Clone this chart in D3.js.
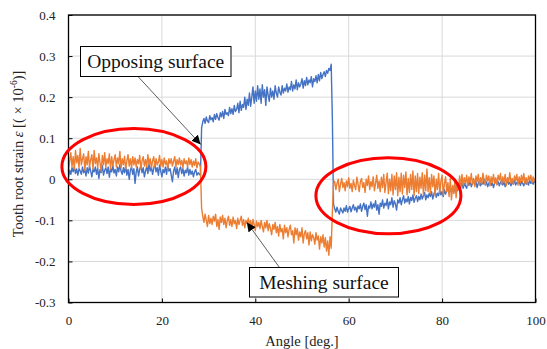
<!DOCTYPE html>
<html>
<head>
<meta charset="utf-8">
<script src="https://cdn.jsdelivr.net/npm/d3@7"></script>
<style>
  body { margin: 0; background: #fff; }
  text { font-family: 'Liberation Serif', 'Times New Roman', serif; }
</style>
</head>
<body>
<script>
// angle grid (deg.), one reading every 0.25 deg, 8 readings per row below
const angleStep = 0.25
const angles = d3.range(0, 100 + angleStep / 2, angleStep)

// opposing surface (blue), strain x10^-6
const opposing = [
  0.005, 0.022, 0.012, 0.028, 0.018, 0.03, 0.014, 0.025,
  0.01, 0.026, 0.02, 0.012, 0.03, 0.016, 0.024, 0.008,
  0.028, 0.015, 0.032, 0.02, 0.006, 0.025, 0.018, 0.03,
  0.012, 0.027, 0.002, 0.024, 0.016, 0.033, 0.01, 0.022,
  0.028, 0.014, 0.03, 0.005, 0.026, 0.018, 0.034, 0.015,
  0.024, 0.008, 0.03, 0.018, 0.036, 0.02, 0.012, 0.028,
  0.016, 0.032, 0.01, 0.024, 0.0, 0.022, 0.03, 0.012,
  0.026, -0.01, 0.018, 0.03, 0.008, 0.024, 0.034, 0.016,
  0.028, 0.006, 0.02, 0.032, 0.014, 0.038, 0.02, 0.03,
  0.012, 0.026, 0.04, 0.018, 0.028, 0.01, 0.035, 0.02,
  0.006, 0.024, 0.016, 0.03, 0.012, 0.034, 0.02, 0.026,
  0.01, -0.006, 0.02, 0.03, 0.012, 0.028, 0.004, 0.024,
  0.03, 0.014, 0.026, 0.008, 0.022, 0.016, 0.03, 0.01,
  0.024, 0.012, 0.02, 0.006, 0.018, 0.024, 0.01, 0.016,
  0.012, 0.01,
  0.125,
  0.14, 0.148, 0.136, 0.152, 0.142, 0.138, 0.155, 0.145,
  0.15, 0.14, 0.158, 0.146, 0.16, 0.15, 0.144, 0.162,
  0.152, 0.165, 0.148, 0.17, 0.158, 0.162, 0.155, 0.175,
  0.16, 0.172, 0.158, 0.18, 0.165, 0.17, 0.185, 0.162,
  0.19, 0.168, 0.182, 0.175, 0.2, 0.17, 0.195, 0.18,
  0.21, 0.178, 0.2, 0.225, 0.185, 0.215, 0.19, 0.228,
  0.195, 0.22, 0.185, 0.23, 0.2, 0.218, 0.18, 0.225,
  0.205, 0.19, 0.222, 0.2, 0.215, 0.195, 0.228, 0.21,
  0.2, 0.225, 0.212, 0.205, 0.228, 0.21, 0.222, 0.215,
  0.232, 0.212, 0.225, 0.218, 0.238, 0.215, 0.23, 0.22,
  0.242, 0.218, 0.235, 0.225, 0.232, 0.245, 0.222, 0.24,
  0.228, 0.248, 0.23, 0.242, 0.235, 0.25, 0.225, 0.245,
  0.238, 0.252, 0.235, 0.255, 0.24, 0.26, 0.245, 0.255,
  0.262, 0.25, 0.265, 0.258, 0.27, 0.265, 0.28,
  0.15, -0.06,
  -0.072, -0.08, -0.068, -0.078, -0.085, -0.07, -0.076, -0.082,
  -0.07, -0.078, -0.064, -0.08, -0.072, -0.066, -0.079, -0.07,
  -0.062, -0.075, -0.068, -0.08, -0.065, -0.072, -0.06, -0.078,
  -0.066, -0.058, -0.074, -0.062, -0.09, -0.065, -0.07, -0.055,
  -0.072, -0.06, -0.068, -0.052, -0.075, -0.062, -0.085, -0.058,
  -0.066, -0.05, -0.07, -0.058, -0.064, -0.048, -0.072, -0.055,
  -0.062, -0.045, -0.068, -0.052, -0.06, -0.075, -0.05, -0.058,
  -0.045, -0.062, -0.05, -0.04, -0.058, -0.048, -0.055, -0.042,
  -0.06, -0.044, -0.052, -0.038, -0.056, -0.046, -0.04, -0.054,
  -0.042, -0.05, -0.036, -0.048, -0.04, -0.032, -0.05, -0.038,
  -0.045, -0.034, -0.042, -0.03, -0.048, -0.036, -0.028, -0.044,
  -0.034, -0.04, -0.026, -0.038, -0.03, -0.042, -0.025, -0.036,
  -0.028, -0.02, -0.035, -0.024, -0.03, -0.018, -0.032, -0.022,
  -0.015, -0.028, -0.012, -0.024, -0.018, -0.008, -0.022, -0.01,
  -0.016,
  -0.022, -0.008, -0.015, -0.004, -0.018, -0.01, -0.002, -0.014,
  -0.006, -0.02, -0.01, -0.004, -0.016, -0.008, -0.012, 0.0,
  -0.014, -0.006, -0.018, -0.01, -0.004, -0.015, -0.008, -0.02,
  -0.01, -0.003, -0.012, -0.006, -0.016, -0.008, -0.002, -0.014,
  -0.006, -0.018, -0.01, -0.004, -0.012, -0.007, -0.016, -0.005,
  -0.012, -0.002, -0.014, -0.008, -0.01, -0.004, -0.015, -0.006,
  -0.01, -0.016, -0.004, -0.012, -0.006, -0.014, -0.002, -0.01,
  -0.006, -0.012, -0.004, -0.008
]

// meshing surface (orange)
const meshing = [
  0.02, 0.045, 0.065, 0.03, 0.055, 0.025, 0.07, 0.04,
  0.058, 0.028, 0.075, 0.035, 0.05, 0.062, 0.022, 0.055,
  0.035, 0.068, 0.03, 0.048, 0.06, 0.025, 0.07, 0.038,
  0.052, 0.028, 0.062, 0.04, 0.02, 0.058, 0.035, 0.065,
  0.03, 0.05, 0.038, 0.062, 0.025, 0.055, 0.032, 0.048,
  0.06, 0.03, 0.052, 0.038, 0.068, 0.028, 0.05, 0.035,
  0.056, 0.025, 0.045, 0.06, 0.032, 0.05, 0.028, 0.055,
  0.035, 0.052, 0.03, 0.048, 0.038, 0.058, 0.025, 0.045,
  0.055, 0.032, 0.048, 0.03, 0.06, 0.036, 0.05, 0.028,
  0.045, 0.055, 0.03, 0.05, 0.035, 0.042, 0.058, 0.032,
  0.048, 0.03, 0.052, 0.036, 0.045, 0.025, 0.05, 0.038,
  0.05, 0.032, 0.044, 0.055, 0.03, 0.048, 0.036, 0.052,
  0.035, 0.046, 0.028, 0.05, 0.038, 0.045, 0.03, 0.052,
  0.036, 0.048, 0.03, 0.044, 0.034, 0.05, 0.028, 0.042,
  0.038, 0.03,
  -0.07,
  -0.09, -0.105, -0.085, -0.1, -0.115, -0.088, -0.108, -0.095,
  -0.11, -0.09, -0.102, -0.085, -0.115, -0.098, -0.122, -0.092,
  -0.105, -0.088, -0.11, -0.095, -0.118, -0.1, -0.09, -0.112,
  -0.098, -0.115, -0.092, -0.108, -0.1, -0.12, -0.095, -0.11,
  -0.1, -0.09, -0.112, -0.098, -0.118, -0.1, -0.108, -0.095,
  -0.112, -0.1, -0.12, -0.098, -0.11, -0.125, -0.102, -0.115,
  -0.105, -0.12, -0.1, -0.115, -0.128, -0.105, -0.118, -0.1,
  -0.125, -0.108, -0.12, -0.135, -0.11, -0.122, -0.105, -0.13,
  -0.115, -0.138, -0.11, -0.128, -0.12, -0.145, -0.112, -0.13,
  -0.118, -0.14, -0.122, -0.112, -0.135, -0.125, -0.155, -0.118,
  -0.135, -0.12, -0.148, -0.128, -0.14, -0.118, -0.155, -0.132,
  -0.125, -0.145, -0.13, -0.16, -0.128, -0.15, -0.135, -0.142,
  -0.158, -0.13, -0.148, -0.138, -0.17, -0.14, -0.155, -0.135,
  -0.165, -0.142, -0.175, -0.15, -0.185, -0.14, -0.168,
  -0.08, -0.01,
  -0.005, -0.025, -0.01, 0.0, -0.03, -0.012, 0.002, -0.02,
  -0.008, -0.028, -0.004, -0.018, 0.004, -0.022, -0.01, -0.03,
  -0.002, -0.015, -0.025, 0.005, -0.012, -0.03, -0.006, 0.002,
  -0.02, -0.008, -0.032, 0.0, -0.015, 0.008, -0.025, -0.005,
  -0.018, 0.006, -0.028, -0.01, 0.01, -0.022, -0.004, -0.03,
  0.005, -0.02, 0.012, -0.032, -0.008, 0.015, -0.035, 0.0,
  -0.028, 0.012, -0.038, 0.008, -0.025, 0.016, -0.04, 0.005,
  -0.03, 0.015, -0.036, 0.01, -0.02, 0.018, -0.038, 0.002,
  -0.032, 0.012, -0.025, 0.02, -0.04, 0.008, -0.03, 0.014,
  -0.035, 0.005, -0.022, 0.016, -0.038, 0.01, -0.028, 0.025,
  -0.03, 0.004, -0.035, 0.012, -0.018, 0.008, -0.04, 0.0,
  -0.025, 0.014, -0.032, -0.005, 0.01, -0.038, -0.01, 0.006,
  -0.03, -0.008, -0.042, 0.002, -0.05, -0.015, -0.035, 0.0,
  -0.045, -0.01, -0.025, 0.008, -0.02, 0.012, -0.015, 0.004,
  -0.012,
  0.01, -0.015, 0.006, -0.008, 0.014, -0.012, 0.002, -0.018,
  0.008, -0.006, 0.012, -0.014, 0.004, -0.01, 0.015, -0.005,
  -0.012, 0.01, -0.004, 0.008, -0.016, 0.006, -0.008, 0.012,
  -0.01, 0.004, -0.014, 0.01, -0.002, 0.014, -0.012, 0.006,
  -0.008, 0.012, -0.015, 0.004, -0.006, 0.016, -0.01, 0.002,
  -0.012, 0.008, -0.004, 0.012, -0.014, 0.006, -0.008, 0.01,
  -0.006, 0.014, -0.01, 0.004, -0.012, 0.008, -0.002, 0.01,
  -0.008, 0.006, -0.004, 0.002
]

const xTicks = [0, 20, 40, 60, 80, 100]
const yTicks = [-0.3, -0.2, -0.1, 0, 0.1, 0.2, 0.3, 0.4]

const chart = () => {
  const width = 547
  const height = 349
  const margin = { top: 15, right: 11.5, bottom: 46.5, left: 68.5 }
  const serif = "'Liberation Serif', 'Times New Roman', serif"

  const svg = d3.select('body')
    .append('svg')
    .attr('width', width)
    .attr('height', height)

  const x = d3.scaleLinear()
    .domain([0, 100])
    .range([margin.left, width - margin.right])

  const y = d3.scaleLinear()
    .domain([-0.3, 0.4])
    .range([height - margin.bottom, margin.top])

  // grid
  svg.append('g')
    .selectAll('line')
    .data(yTicks)
    .join('line')
    .attr('x1', x(0))
    .attr('x2', x(100))
    .attr('y1', (d) => y(d))
    .attr('y2', (d) => y(d))
    .attr('stroke', '#d9d9d9')

  svg.append('g')
    .selectAll('line')
    .data(xTicks)
    .join('line')
    .attr('x1', (d) => x(d))
    .attr('x2', (d) => x(d))
    .attr('y1', y(-0.3))
    .attr('y2', y(0.4))
    .attr('stroke', '#d9d9d9')

  // series
  const line = d3.line()
    .x((d) => x(d[0]))
    .y((d) => y(d[1]))

  svg.append('path')
    .datum(d3.zip(angles, opposing))
    .attr('fill', 'none')
    .attr('stroke', '#4472c4')
    .attr('stroke-width', 1.4)
    .attr('stroke-linejoin', 'round')
    .attr('d', line)

  svg.append('path')
    .datum(d3.zip(angles, meshing))
    .attr('fill', 'none')
    .attr('stroke', '#ed7d31')
    .attr('stroke-width', 1.4)
    .attr('stroke-linejoin', 'round')
    .attr('d', line)

  // axes
  svg.append('g')
    .attr('transform', `translate(${x(0)},0)`)
    .call(d3.axisLeft(y)
      .tickValues(yTicks)
      .tickSize(-4)
      .tickPadding(13)
      .tickFormat((d) => d === 0 ? '0' : d.toFixed(1)))
    .attr('font-family', serif)
    .attr('font-size', 13)

  svg.append('g')
    .attr('transform', `translate(0,${y(-0.3)})`)
    .call(d3.axisBottom(x)
      .tickValues(xTicks)
      .tickSize(-4)
      .tickPadding(13)
      .tickFormat(d3.format('d')))
    .attr('font-family', serif)
    .attr('font-size', 13)

  svg.selectAll('.domain').remove()
  svg.selectAll('.tick line').attr('stroke', '#000')
  svg.selectAll('.tick text').attr('fill', '#222')

  svg.append('rect')
    .attr('x', x(0))
    .attr('y', y(0.4))
    .attr('width', x(100) - x(0))
    .attr('height', y(-0.3) - y(0.4))
    .attr('fill', 'none')
    .attr('stroke', '#000')
    .attr('stroke-width', 1.3)

  // titles
  svg.append('text')
    .attr('x', (x(0) + x(100)) / 2)
    .attr('y', 346)
    .attr('font-size', 14.5)
    .attr('fill', '#222')
    .style('text-anchor', 'middle')
    .text('Angle [deg.]')

  const yTitle = svg.append('text')
    .attr('transform', 'rotate(-90)')
    .attr('x', -154)
    .attr('y', 23)
    .attr('font-size', 14.5)
    .attr('fill', '#222')
    .style('text-anchor', 'middle')

  yTitle.append('tspan').text('Tooth root strain ')
  yTitle.append('tspan').attr('font-style', 'italic').text('ε')
  yTitle.append('tspan').text(' [( × 10')
  yTitle.append('tspan').attr('font-size', 9.5).attr('dy', -6).text('-6')
  yTitle.append('tspan').attr('dy', 6).text(')]')

  // highlight ellipses
  svg.append('ellipse')
    .attr('cx', x(14))
    .attr('cy', y(0.031))
    .attr('rx', 72)
    .attr('ry', 38)
    .attr('fill', 'none')
    .attr('stroke', '#ff0000')
    .attr('stroke-width', 3)

  svg.append('ellipse')
    .attr('cx', x(68.5))
    .attr('cy', y(-0.04))
    .attr('rx', 72.5)
    .attr('ry', 38)
    .attr('fill', 'none')
    .attr('stroke', '#ff0000')
    .attr('stroke-width', 3)

  // callouts
  svg.append('defs')
    .append('marker')
    .attr('id', 'head')
    .attr('viewBox', '0 0 10 10')
    .attr('refX', 10)
    .attr('refY', 5)
    .attr('markerWidth', 9)
    .attr('markerHeight', 9)
    .attr('markerUnits', 'userSpaceOnUse')
    .attr('orient', 'auto')
    .append('path')
    .attr('d', 'M0,0L10,5L0,10z')
    .attr('fill', '#000')

  const callout = (label, bx, by, bw, bh, fromX, fromY, toX, toY) => {
    svg.append('line')
      .attr('x1', fromX)
      .attr('y1', fromY)
      .attr('x2', toX)
      .attr('y2', toY)
      .attr('stroke', '#333')
      .attr('stroke-width', 0.8)
      .attr('marker-end', 'url(#head)')

    svg.append('rect')
      .attr('x', bx)
      .attr('y', by)
      .attr('width', bw)
      .attr('height', bh)
      .attr('fill', '#fff')
      .attr('stroke', '#000')
      .attr('stroke-width', 1)

    svg.append('text')
      .attr('x', bx + bw / 2)
      .attr('y', by + bh / 2 + 6.5)
      .attr('font-size', 19.5)
      .attr('fill', '#111')
      .style('text-anchor', 'middle')
      .text(label)
  }

  callout('Opposing surface', 80.5, 46.5, 150.5, 30, 138, 76.5, x(28.3), y(0.085))
  callout('Meshing surface', 249.5, 267.5, 149, 29.5, 279.5, 267.5, x(38.2), y(-0.105))
}

chart()
</script>
</body>
</html>
